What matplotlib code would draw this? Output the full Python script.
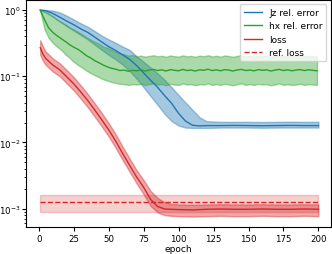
import numpy as np
import matplotlib
matplotlib.use("Agg")
import matplotlib.pyplot as plt

# ---------------------------------------------------------------------------
# Values
# ---------------------------------------------------------------------------
jz_epochs = [1, 5, 10, 15, 20, 25, 30, 35, 40, 45, 50, 55, 60, 65, 70, 75, 80,
             85, 90, 95, 100, 105, 110, 115, 120, 130, 140, 150, 160, 170,
             180, 190, 200]
jz_mean = [1.0, 0.98, 0.89, 0.78, 0.68, 0.60, 0.52, 0.46, 0.39, 0.33, 0.28,
           0.245, 0.21, 0.18, 0.145, 0.112, 0.087, 0.068, 0.051, 0.039,
           0.0275, 0.021, 0.0182, 0.0178, 0.018, 0.018, 0.0181, 0.018,
           0.0179, 0.018, 0.0181, 0.018, 0.018]
jz_lower = [0.99, 0.93, 0.80, 0.67, 0.57, 0.49, 0.42, 0.36, 0.30, 0.25, 0.21,
            0.18, 0.15, 0.12, 0.092, 0.068, 0.050, 0.037, 0.027, 0.021,
            0.018, 0.0168, 0.0166, 0.0166, 0.0166, 0.0168, 0.0168, 0.0168,
            0.0167, 0.0168, 0.0168, 0.0168, 0.0168]
jz_upper = [1.0, 1.0, 0.98, 0.92, 0.82, 0.72, 0.63, 0.56, 0.48, 0.41, 0.36,
            0.32, 0.28, 0.25, 0.20, 0.165, 0.135, 0.11, 0.088, 0.068, 0.052,
            0.040, 0.031, 0.024, 0.021, 0.0205, 0.0205, 0.0205, 0.0204,
            0.0205, 0.0206, 0.0205, 0.0205]

hx_epochs = list(range(1, 200, 3))
hx_mean = [1.0, 0.72, 0.54, 0.46, 0.41, 0.37, 0.335, 0.30, 0.275, 0.255,
           0.23, 0.205, 0.19, 0.172, 0.16, 0.148, 0.139, 0.132, 0.128, 0.122,
           0.124, 0.119, 0.123, 0.121, 0.125, 0.12, 0.124, 0.127, 0.122,
           0.125, 0.12, 0.126, 0.123, 0.121, 0.127, 0.122, 0.124, 0.12,
           0.125, 0.123, 0.128, 0.122, 0.125, 0.121, 0.126, 0.124, 0.12,
           0.125, 0.127, 0.122, 0.124, 0.121, 0.126, 0.123, 0.125, 0.12,
           0.124, 0.127, 0.122, 0.125, 0.121, 0.124, 0.126, 0.122, 0.125,
           0.123, 0.121]
hx_upper = [1.0, 0.95, 0.87, 0.80, 0.72, 0.66, 0.61, 0.55, 0.51, 0.47, 0.43,
            0.39, 0.36, 0.33, 0.31, 0.28, 0.27, 0.25, 0.235, 0.22, 0.215,
            0.205, 0.21, 0.2, 0.205, 0.198, 0.203, 0.208, 0.2, 0.204, 0.197,
            0.206, 0.201, 0.198, 0.207, 0.2, 0.203, 0.197, 0.205, 0.201,
            0.208, 0.199, 0.204, 0.198, 0.206, 0.202, 0.197, 0.204, 0.208,
            0.2, 0.203, 0.198, 0.206, 0.201, 0.204, 0.197, 0.203, 0.207,
            0.2, 0.205, 0.198, 0.203, 0.206, 0.2, 0.204, 0.201, 0.199]
hx_lower = [0.98, 0.52, 0.38, 0.32, 0.28, 0.25, 0.215, 0.19, 0.165, 0.148,
            0.135, 0.122, 0.112, 0.104, 0.097, 0.09, 0.086, 0.082, 0.079,
            0.077, 0.076, 0.074, 0.076, 0.075, 0.077, 0.074, 0.076, 0.078,
            0.075, 0.076, 0.073, 0.077, 0.075, 0.074, 0.078, 0.075, 0.076,
            0.073, 0.076, 0.075, 0.078, 0.074, 0.076, 0.074, 0.077, 0.075,
            0.073, 0.076, 0.078, 0.074, 0.076, 0.074, 0.077, 0.075, 0.076,
            0.073, 0.075, 0.078, 0.074, 0.076, 0.074, 0.075, 0.077, 0.074,
            0.076, 0.075, 0.074]

loss_epochs = [1, 3, 5, 10, 15, 20, 25, 30, 35, 40, 45, 50, 55, 60, 65, 70,
               75, 80, 85, 90, 95, 100, 110, 120, 130, 140, 150, 160, 170,
               180, 190, 200]
loss_mean = [0.27, 0.215, 0.185, 0.148, 0.125, 0.098, 0.077, 0.058, 0.043,
             0.031, 0.022, 0.0155, 0.0105, 0.0068, 0.0045, 0.0030, 0.0021,
             0.00138, 0.00108, 0.00099, 0.00098, 0.00097, 0.00096, 0.00098,
             0.00099, 0.00098, 0.00098, 0.00099, 0.00098, 0.00098, 0.00099,
             0.00098]
loss_lower = [0.21, 0.17, 0.148, 0.118, 0.10, 0.078, 0.061, 0.046, 0.034,
              0.0245, 0.0175, 0.0123, 0.0083, 0.0054, 0.0036, 0.0024,
              0.00165, 0.00110, 0.00088, 0.00080, 0.00078, 0.00077, 0.00076,
              0.00077, 0.00078, 0.00077, 0.00077, 0.00078, 0.00077, 0.00077,
              0.00078, 0.00077]
loss_upper = [0.35, 0.28, 0.235, 0.186, 0.157, 0.124, 0.097, 0.073, 0.054,
              0.039, 0.028, 0.0196, 0.0133, 0.0086, 0.0057, 0.0038, 0.0027,
              0.00185, 0.00145, 0.00125, 0.00118, 0.00116, 0.00115, 0.00116,
              0.00117, 0.00116, 0.00116, 0.00117, 0.00116, 0.00116, 0.00117,
              0.00116]

ref_epochs = [1, 200]
ref_loss = [1.25e-3, 1.25e-3]
ref_lower = [0.88e-3, 0.88e-3]
ref_upper = [1.62e-3, 1.62e-3]

plt.rcParams["font.size"] = 6.5

fig, ax = plt.subplots(figsize=(3.32, 2.55), dpi=100)
fig.subplots_adjust(left=0.079, right=0.997, bottom=0.106, top=0.997)

# each series: line + shaded band
ax.plot(jz_epochs, jz_mean, color="tab:blue", lw=1.0, label="Jz rel. error")
ax.fill_between(jz_epochs, jz_lower, jz_upper, color="tab:blue", alpha=0.4)
ax.plot(hx_epochs, hx_mean, color="tab:green", lw=1.0, label="hx rel. error")
ax.fill_between(hx_epochs, hx_lower, hx_upper, color="tab:green", alpha=0.4)
ax.plot(loss_epochs, loss_mean, color="tab:red", lw=1.0, label="loss")
ax.fill_between(loss_epochs, loss_lower, loss_upper, color="tab:red",
                alpha=0.4)
ax.plot(ref_epochs, ref_loss, color="tab:red", lw=1.0, ls="--",
        label="ref. loss")
ax.fill_between(ref_epochs, ref_lower, ref_upper, color="tab:red", alpha=0.22)

ax.set_yscale("log")
ax.set_xlim(-9, 209)
ax.set_ylim(5.3e-4, 1.43)
ax.set_xticks([0, 25, 50, 75, 100, 125, 150, 175, 200])
ax.set_xlabel("epoch", labelpad=1)
ax.tick_params(axis="both", which="major", length=3, pad=2, labelsize=6.2)
ax.tick_params(axis="y", which="major", pad=1.5)
ax.tick_params(axis="both", which="minor", length=1.8)
ax.legend(loc="upper right", fontsize=6.5)

fig.savefig("out.png", dpi=100)
plt.close(fig)
